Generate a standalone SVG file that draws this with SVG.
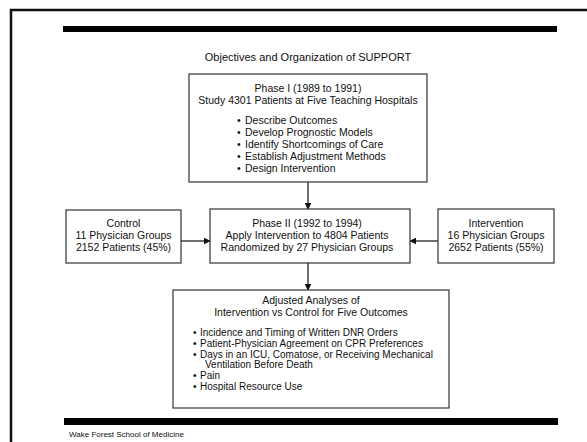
<svg xmlns="http://www.w3.org/2000/svg" width="587" height="442" viewBox="0 0 587 442">
<style>
text{font-family:"Liberation Sans",Arial,sans-serif;fill:#111;font-size:10.5px}
.c{text-anchor:middle}
.s{font-size:10px}
.box{fill:#fff;stroke:#333;stroke-width:1.2}
.ln{stroke:#222;stroke-width:1.3;fill:none}
</style>
<defs>
<marker id="ah" viewBox="0 0 10 10" refX="9" refY="5" markerWidth="7" markerHeight="7" markerUnits="userSpaceOnUse" orient="auto">
<path d="M0,0 L10,5 L0,10 z" fill="#111"/>
</marker>
</defs>
<rect width="587" height="442" fill="#fff"/>
<path d="M11,442 V10 H587" fill="none" stroke="#111" stroke-width="2.5"/>
<rect x="63" y="26" width="494" height="6" fill="#000"/>
<rect x="64" y="418" width="494" height="7" fill="#000"/>
<text class="c" x="308" y="61" style="font-size:11px">Objectives and Organization of SUPPORT</text>
<text x="69" y="437" style="font-size:8px">Wake Forest School of Medicine</text>

<g id="connectors">
<line class="ln" x1="308" y1="182" x2="308" y2="209" marker-end="url(#ah)"/>
<line class="ln" x1="181" y1="241" x2="210" y2="241" marker-end="url(#ah)"/>
<line class="ln" x1="438" y1="241" x2="410" y2="241" marker-end="url(#ah)"/>
<line class="ln" x1="308" y1="263" x2="308" y2="290" marker-end="url(#ah)"/>
</g>

<g id="phase1">
<rect class="box" x="189" y="74" width="238" height="108"/>
<text class="c" x="308" y="92">Phase I (1989 to 1991)</text>
<text class="c" x="308" y="104">Study 4301 Patients at Five Teaching Hospitals</text>
<text x="237" y="124">•</text><text x="245" y="124">Describe Outcomes</text>
<text x="237" y="136">•</text><text x="245" y="136">Develop Prognostic Models</text>
<text x="237" y="148">•</text><text x="245" y="148">Identify Shortcomings of Care</text>
<text x="237" y="160">•</text><text x="245" y="160">Establish Adjustment Methods</text>
<text x="237" y="172">•</text><text x="245" y="172">Design Intervention</text>
</g>

<g id="control">
<rect class="box" x="66" y="210" width="115" height="53"/>
<text class="c" x="123.5" y="227">Control</text>
<text class="c" x="123.5" y="239">11 Physician Groups</text>
<text class="c" x="123.5" y="251">2152 Patients (45%)</text>
</g>

<g id="phase2">
<rect class="box" x="210" y="209" width="200" height="54"/>
<text class="c" x="307" y="227">Phase II (1992 to 1994)</text>
<text class="c" x="307" y="239">Apply Intervention to 4804 Patients</text>
<text class="c" x="307" y="251">Randomized by 27 Physician Groups</text>
</g>

<g id="intervention">
<rect class="box" x="438" y="209" width="116" height="54"/>
<text class="c" x="496" y="227">Intervention</text>
<text class="c" x="496" y="239">16 Physician Groups</text>
<text class="c" x="496" y="251">2652 Patients (55%)</text>
</g>

<g id="analyses">
<rect class="box" x="173" y="290" width="276" height="118"/>
<text class="c" x="311" y="304">Adjusted Analyses of</text>
<text class="c" x="311" y="316">Intervention vs Control for Five Outcomes</text>
<text class="s" x="193" y="336">•</text><text class="s" x="200" y="336">Incidence and Timing of Written DNR Orders</text>
<text class="s" x="193" y="347">•</text><text class="s" x="200" y="347">Patient-Physician Agreement on CPR Preferences</text>
<text class="s" x="193" y="358">•</text><text class="s" x="200" y="358">Days in an ICU, Comatose, or Receiving Mechanical</text>
<text class="s" x="205" y="368">Ventilation Before Death</text>
<text class="s" x="193" y="379">•</text><text class="s" x="200" y="379">Pain</text>
<text class="s" x="193" y="390">•</text><text class="s" x="200" y="390">Hospital Resource Use</text>
</g>
</svg>
